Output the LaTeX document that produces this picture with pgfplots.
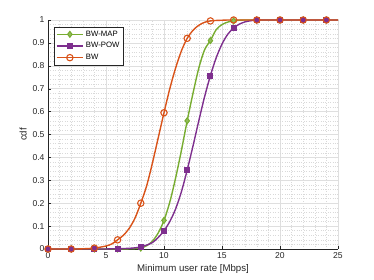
\documentclass[border=0pt]{standalone}
\usepackage{fontspec}
\setmainfont{Liberation Sans}
\usepackage{pgfplots}
\pgfplotsset{compat=1.18}
\definecolor{mgreen}{rgb}{0.466,0.674,0.188}
\definecolor{mpurple}{rgb}{0.494,0.184,0.556}
\definecolor{morange}{rgb}{0.85,0.325,0.098}
\definecolor{axgray}{gray}{0.15}
\begin{document}
\begin{tikzpicture}
\begin{axis}[
  at={(48bp,31bp)}, anchor=south west,
  scale only axis, width=290bp, height=229bp,
  xmin=0, xmax=25, ymin=0, ymax=1,
  xtick={0,5,...,25}, ytick={0,0.1,...,1.0},
  yticklabels={0,0.1,0.2,0.3,0.4,0.5,0.6,0.7,0.8,0.9,1},
  minor x tick num=4, minor y tick num=4,
  axis x line*=bottom, axis y line*=left,
  axis line style={axgray, line width=0.5pt},
  tick style={axgray}, tick align=inside,
  major tick length=3bp, minor tick length=0pt,
  grid=both,
  major grid style={gray!25, line width=0.4pt},
  minor grid style={gray!30, dotted, line width=0.4pt},
  /pgf/number format/assume math mode=true,
  ticklabel style={font=\fontsize{8.6}{10}\selectfont, text=axgray},
  xlabel={Minimum user rate [Mbps]},
  ylabel={cdf},
  label style={font=\fontsize{9.7}{11}\selectfont, text=axgray},
  xlabel style={yshift=1bp},
  ylabel style={yshift=-1bp},
  clip=false,
  legend style={font=\fontsize{7.8}{9}\selectfont, draw=axgray, line width=0.5pt,
    at={(0.02,0.97)}, anchor=north west, inner sep=1.8pt, row sep=0.8pt},
  legend cell align=left,
  legend image code/.code={\draw[mark repeat=2, mark phase=2] plot coordinates {(0cm,0cm)(0.47cm,0cm)(0.94cm,0cm)};},
  every axis plot/.append style={line width=1.4pt, mark repeat=4, mark size=3pt},
]
\addplot[mgreen, smooth, tension=0.5, mark=diamond*, mark options={solid, fill=mgreen!80, line width=1pt}] coordinates {
(0,0)(0.5,0)(1,0)(1.5,0)(2,0)(2.5,0)(3,0)(3.5,0)(4,0)(4.5,0)
(5,0)(5.5,0)(6,0)(6.5,0)(7,0.001)(7.5,0.002)(8,0.004)(8.5,0.014)(9,0.034)(9.5,0.07)
(10,0.125)(10.5,0.205)(11,0.31)(11.5,0.43)(12,0.56)(12.5,0.68)(13,0.79)(13.5,0.87)(14,0.91)(14.5,0.958)
(15,0.98)(15.5,0.991)(16,0.996)(16.5,0.999)(17,1)(17.5,1)(18,1)(18.5,1)(19,1)(19.5,1)
(20,1)(20.5,1)(21,1)(21.5,1)(22,1)(22.5,1)(23,1)(23.5,1)(24,1)(24.5,1)(25,1)};
\addlegendentry{BW-MAP}
\addplot[mpurple, smooth, tension=0.5, mark=square*, mark size=2.6pt, mark options={solid, fill=mpurple, line width=1pt}] coordinates {
(0,0)(0.5,0)(1,0)(1.5,0)(2,0)(2.5,0)(3,0)(3.5,0)(4,0)(4.5,0)
(5,0)(5.5,0.001)(6,0.001)(6.5,0.002)(7,0.003)(7.5,0.005)(8,0.009)(8.5,0.017)(9,0.028)(9.5,0.05)
(10,0.08)(10.5,0.12)(11,0.175)(11.5,0.25)(12,0.345)(12.5,0.45)(13,0.56)(13.5,0.665)(14,0.757)(14.5,0.835)
(15,0.895)(15.5,0.938)(16,0.965)(16.5,0.982)(17,0.992)(17.5,0.997)(18,1)(18.5,1)(19,1)(19.5,1)
(20,1)(20.5,1)(21,1)(21.5,1)(22,1)(22.5,1)(23,1)(23.5,1)(24,1)(24.5,1)(25,1)};
\addlegendentry{BW-POW}
\addplot[morange, smooth, tension=0.5, mark=o, mark size=3.2pt, mark options={solid, line width=1.1pt}] coordinates {
(0,0)(0.5,0)(1,0)(1.5,0)(2,0)(2.5,0)(3,0.001)(3.5,0.002)(4,0.004)(4.5,0.008)
(5,0.013)(5.5,0.022)(6,0.04)(6.5,0.06)(7,0.09)(7.5,0.135)(8,0.2)(8.5,0.275)(9,0.375)(9.5,0.485)
(10,0.595)(10.5,0.70)(11,0.79)(11.5,0.865)(12,0.92)(12.5,0.955)(13,0.977)(13.5,0.99)(14,0.996)(14.5,0.998)
(15,0.999)(15.5,1)(16,1)(16.5,1)(17,1)(17.5,1)(18,1)(18.5,1)(19,1)(19.5,1)
(20,1)(20.5,1)(21,1)(21.5,1)(22,1)(22.5,1)(23,1)(23.5,1)(24,1)(24.5,1)(25,1)};
\addlegendentry{BW}
\end{axis}
\pgfresetboundingbox
\path (0,0) rectangle (374bp,280bp);
\end{tikzpicture}
\end{document}
